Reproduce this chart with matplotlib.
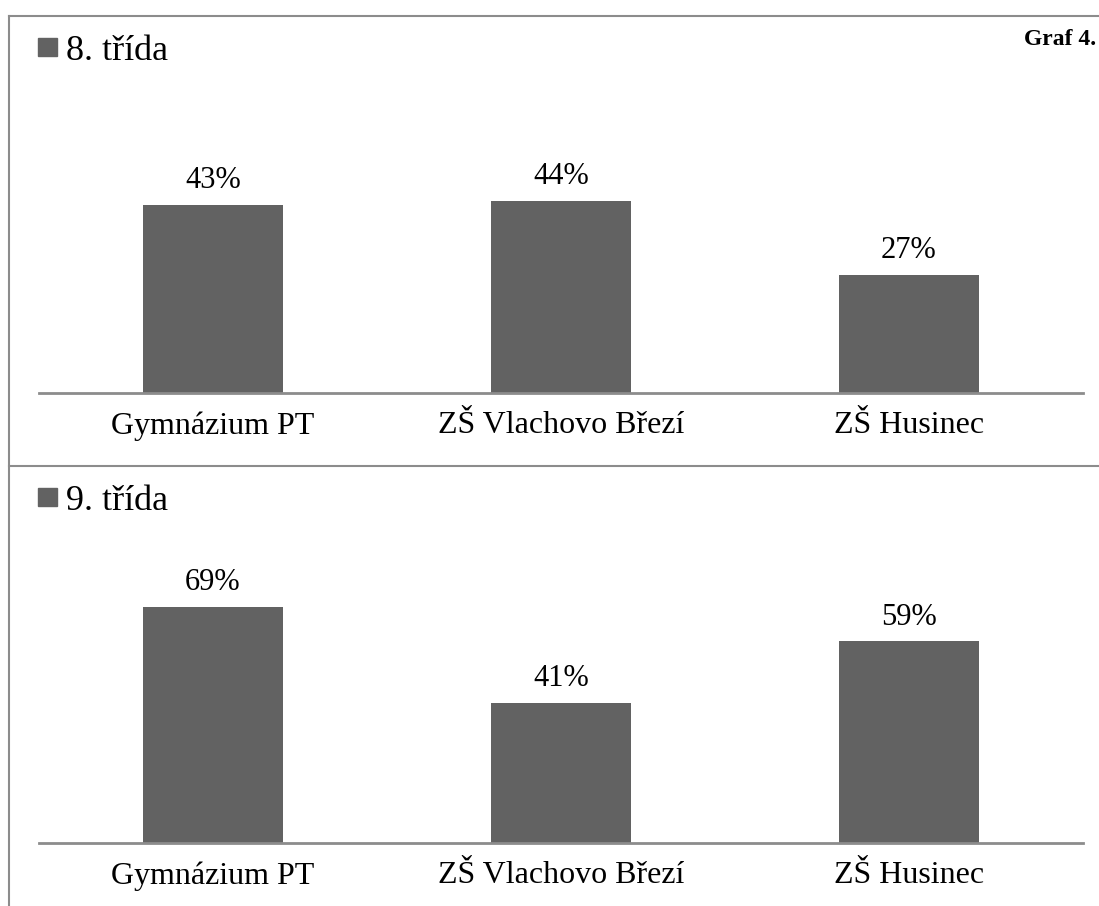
import matplotlib.pyplot as plt
from matplotlib.lines import Line2D
from matplotlib.patches import Rectangle

schools = ["Gymnázium PT", "ZŠ Vlachovo Březí", "ZŠ Husinec"]
grade8 = [43, 44, 27]
grade9 = [69, 41, 59]
panel_titles = ["8. třída", "9. třída"]

W, H = 1099, 906
bar_color = "#626262"
line_color = "#8c8c8c"

plt.rcParams['font.family'] = ['Liberation Serif', 'DejaVu Serif']

fig = plt.figure(figsize=(W / 100, H / 100), dpi=100)


def px_rect(x0, y_top, x1, y_bot):
    # pixel box -> figure fraction [left, bottom, width, height]
    return [x0 / W, 1 - y_bot / H, (x1 - x0) / W, (y_bot - y_top) / H]


def panel(values, title, base_y, px_per_pct, ymax, title_base):
    height = ymax * px_per_pct
    ax = fig.add_axes(px_rect(39, base_y - height, 1083, base_y))
    x = range(len(schools))
    ax.bar(x, values, width=0.4, color=bar_color)
    ax.set_xlim(-0.5, len(schools) - 0.5)
    ax.set_ylim(0, ymax)
    for s in ["top", "left", "right"]:
        ax.spines[s].set_visible(False)
    ax.spines["bottom"].set_color(line_color)
    ax.spines["bottom"].set_linewidth(2)
    ax.set_yticks([])
    ax.set_xticks(list(x))
    ax.set_xticklabels(schools, fontsize=23)
    ax.tick_params(axis="x", length=0, pad=13)
    for i, v in zip(x, values):
        ax.annotate(f"{v}%", (i, v), xytext=(0, 12), textcoords="offset points",
                    ha="center", va="baseline", fontsize=22)
    # legend-like title
    fig.patches.append(Rectangle((38 / W, 1 - (title_base - 4) / H), 19 / W, 18 / H,
                                 transform=fig.transFigure, color=bar_color))
    fig.text(66 / W, 1 - title_base / H, title, fontsize=26, va="baseline", ha="left")
    return ax


panel(grade8, panel_titles[0], 393, 4.375, 50, 60)
panel(grade9, panel_titles[1], 843, 3.42, 80, 510)

# frame lines
for xs, ys in [([9, 1099], [16, 16]), ([9, 1099], [466, 466]), ([9, 9], [16, 906])]:
    fig.lines.append(Line2D([x / W for x in xs], [1 - y / H for y in ys],
                            transform=fig.transFigure, color=line_color, lw=1.5))

fig.text(1096 / W, 1 - 45 / H, "Graf 4.", fontsize=17, fontweight="bold",
         va="baseline", ha="right")

fig.savefig("out.png", dpi=100)
